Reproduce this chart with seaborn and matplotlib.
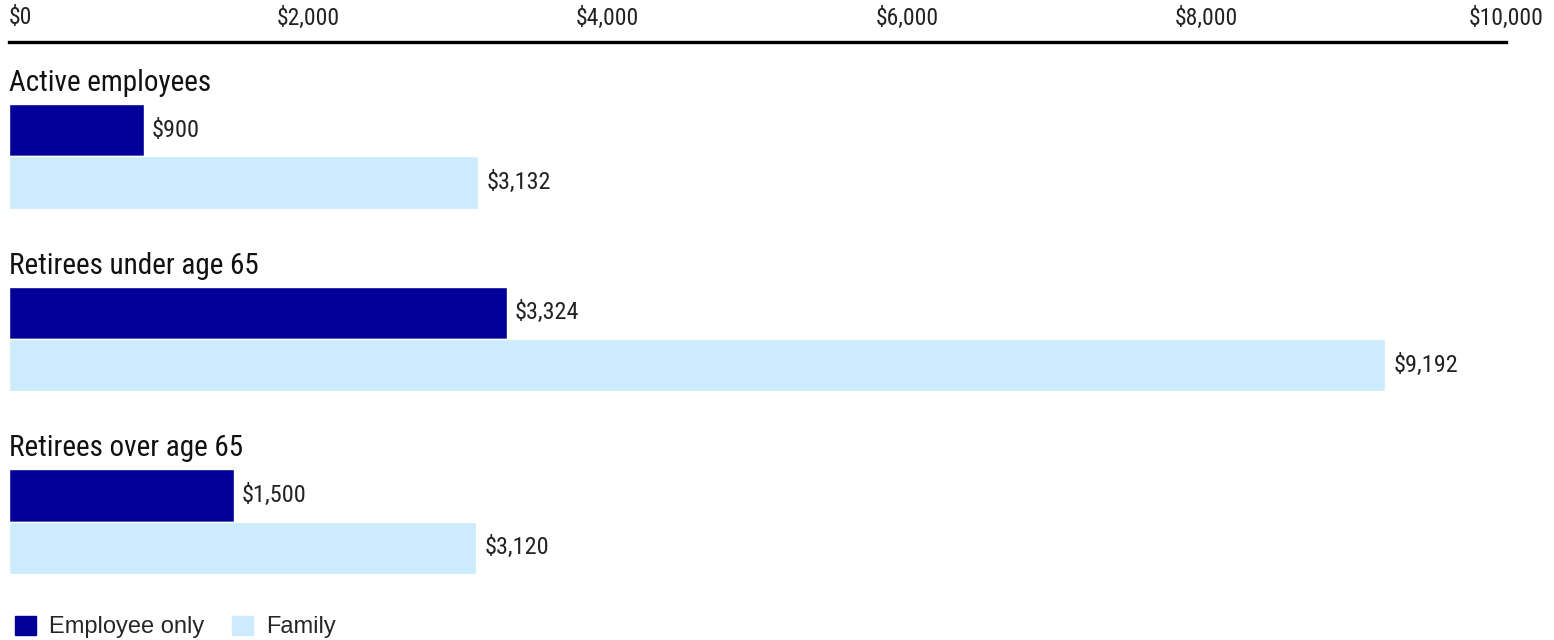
import numpy as np
import pandas as pd
import matplotlib
matplotlib.use('Agg')
import matplotlib.pyplot as plt
import matplotlib.patches as mpatches
import seaborn as sns


groups = ['Active employees', 'Retirees under age 65', 'Retirees over age 65']
series = ['Employee only', 'Family']
employee_only = [900, 3324, 1500]
family = [3132, 9192, 3120]
ticks = [0, 2000, 4000, 6000, 8000, 10000]
colors = ['#000099', '#CCEBFC']


def main():

    df = pd.DataFrame({
        'group': groups * 2,
        'series': [series[0]] * 3 + [series[1]] * 3,
        'value': employee_only + family,
    })

    sns.set_style('white')
    plt.rcParams['font.family'] = ['Roboto Condensed', 'DejaVu Sans']

    fig = plt.figure(figsize=(15.54, 6.4), dpi=100)
    ax = fig.add_axes([9 / 1554, 40 / 640, 1497 / 1554, 558 / 640])

    sns.barplot(data=df, x='value', y='group', hue='series', orient='h',
                palette=colors, width=0.575, saturation=1, legend=False, ax=ax)

    for bars in ax.containers:
        ax.bar_label(bars, labels=[f'${b.get_width():,.0f}' for b in bars],
                     padding=6, fontsize=17.5, color='#222222')

    for i, g in enumerate(groups):
        ax.text(0, i - 0.4, g, va='center', ha='left', fontsize=21, color='#111111')

    ax.set_xlim(0, 10000)
    ax.set_ylim(2.43, -0.627)
    ax.set_xlabel('')
    ax.set_ylabel('')
    ax.set_yticks([])

    ax.xaxis.tick_top()
    ax.set_xticks(ticks)
    labels = ax.set_xticklabels([f'${t:,}' for t in ticks], fontsize=17, color='#222222')
    labels[0].set_ha('left')
    ax.tick_params(axis='x', length=0, pad=9)

    for side in ['bottom', 'left', 'right']:
        ax.spines[side].set_visible(False)
    ax.spines['top'].set_linewidth(2.4)
    ax.spines['top'].set_color('black')

    # legend
    handles = [mpatches.Patch(color=c, label=s) for c, s in zip(colors, series)]
    fig.legend(handles=handles, loc='center left', bbox_to_anchor=(15 / 1554, 1 - 627 / 640),
               ncol=2, frameon=False, borderpad=0, borderaxespad=0,
               handlelength=0.9, handleheight=0.9,
               handletextpad=0.55, columnspacing=1.15,
               prop={'family': 'Liberation Sans', 'size': 17})

    plt.savefig('out.png', dpi=100)


if __name__ == '__main__':
    main()
